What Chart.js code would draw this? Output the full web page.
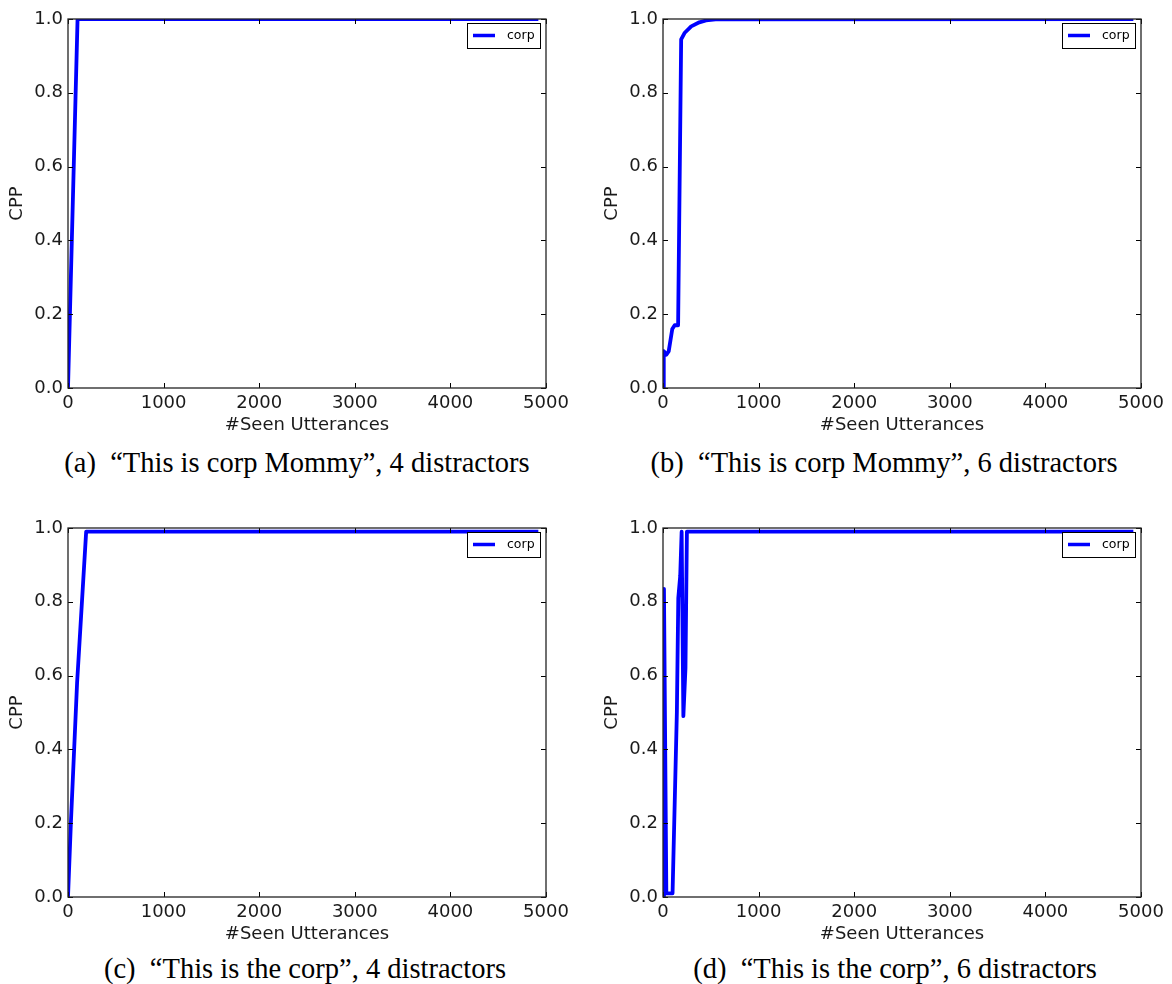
<!DOCTYPE html>
<html>
<head>
<meta charset="utf-8">
<script src="https://cdn.jsdelivr.net/npm/chart.js@4.4.1/dist/chart.umd.min.js"></script>
<style>
    body { margin: 0; background: #fff; width: 1172px; height: 984px; position: relative; overflow: hidden; }
    .panel { position: absolute; width: 586px; height: 440px; }
    .caption { position: absolute; width: 586px; text-align: center; font-family: "Liberation Serif", "Times New Roman", serif; font-size: 28.5px; color: #000; white-space: pre; line-height: 30px; }
</style>
</head>
<body>
<div class="panel" style="left:0;top:0"><canvas id="chartA" width="586" height="440"></canvas></div>
<div class="panel" style="left:595px;top:0"><canvas id="chartB" width="586" height="440"></canvas></div>
<div class="panel" style="left:0;top:509px"><canvas id="chartC" width="586" height="440"></canvas></div>
<div class="panel" style="left:595px;top:509px"><canvas id="chartD" width="586" height="440"></canvas></div>
<div class="caption" style="left:4px;top:448px">(a)  “This is corp Mommy”, 4 distractors</div>
<div class="caption" style="left:591px;top:448px">(b)  “This is corp Mommy”, 6 distractors</div>
<div class="caption" style="left:12px;top:954px">(c)  “This is the corp”, 4 distractors</div>
<div class="caption" style="left:602px;top:954px">(d)  “This is the corp”, 6 distractors</div>
<script>
// data (x = #seen utterances, y = CPP)
const xA = [0, 100, 4920];
const yA = [0, 1.0, 1.0];

const xB = [0, 8, 35, 60, 97, 122, 158, 190, 225, 295, 380, 450, 550, 4920];
const yB = [0, 0.10, 0.09, 0.10, 0.16, 0.17, 0.17, 0.945, 0.962, 0.98, 0.991, 0.996, 0.999, 1.0];

const xC = [0, 30, 95, 190, 4920];
const yC = [0, 0.2, 0.58, 0.99, 0.99];

const xD = [0, 10, 35, 100, 145, 160, 180, 195, 213, 235, 250, 4920];
const yD = [0, 0.835, 0.01, 0.01, 0.5, 0.81, 0.87, 0.99, 0.49, 0.62, 0.99, 0.99];

const xTicks = [0, 1000, 2000, 3000, 4000, 5000];
const yTicks = [0, 0.2, 0.4, 0.6, 0.8, 1.0];
const seriesName = 'corp';

const TICK_FONT = { family: 'DejaVu Sans', size: 18 };
const INK = '#1a1a1a';

// frame, inward ticks on all four sides, legend box in upper right
const mplFrame = {
    id: 'mplFrame',
    afterDraw(chart) {
        const c = chart.ctx;
        const a = chart.chartArea;
        const xs = chart.scales.x, ys = chart.scales.y;
        c.save();
        c.strokeStyle = '#000';
        c.lineWidth = 1;
        c.beginPath();
        xTicks.forEach(v => {
            const px = Math.round(xs.getPixelForValue(v)) + 0.5;
            c.moveTo(px, a.bottom); c.lineTo(px, a.bottom - 5);
            c.moveTo(px, a.top); c.lineTo(px, a.top + 5);
        });
        yTicks.forEach(v => {
            const py = Math.round(ys.getPixelForValue(v)) + 0.5;
            c.moveTo(a.left, py); c.lineTo(a.left + 5, py);
            c.moveTo(a.right, py); c.lineTo(a.right - 5, py);
        });
        c.stroke();
        c.strokeStyle = '#222';
        c.lineWidth = 1.3;
        c.strokeRect(a.left, a.top, a.right - a.left, a.bottom - a.top);

        // legend
        const bw = 73, bh = 25;
        const bx = a.right - 6 - bw, by = a.top + 4;
        c.fillStyle = '#fff';
        c.fillRect(bx, by, bw, bh);
        c.strokeStyle = '#000';
        c.lineWidth = 1;
        c.strokeRect(bx + 0.5, by + 0.5, bw, bh);
        c.strokeStyle = '#0000ff';
        c.lineWidth = 3.5;
        c.beginPath();
        c.moveTo(bx + 6, by + 12.5); c.lineTo(bx + 28, by + 12.5);
        c.stroke();
        c.fillStyle = '#000';
        c.font = '12.5px "DejaVu Sans"';
        c.textBaseline = 'middle';
        c.fillText(chart.data.datasets[0].label, bx + 40, by + 13);
        c.restore();
    }
};

function makeChart(id, xs, ys) {
    const pts = xs.map((x, i) => ({ x: x, y: ys[i] }));
    return new Chart(document.getElementById(id), {
        type: 'line',
        data: {
            datasets: [{
                label: seriesName,
                data: pts,
                borderColor: '#0000ff',
                borderWidth: 3.8,
                borderJoinStyle: 'round',
                pointRadius: 0,
                tension: 0,
                fill: false
            }]
        },
        options: {
            responsive: false,
            animation: false,
            layout: { padding: { top: 19, right: 40, left: 0, bottom: 0 } },
            plugins: { legend: { display: false }, tooltip: { enabled: false } },
            scales: {
                x: {
                    type: 'linear', min: 0, max: 5000,
                    afterFit: s => { s.height = 52; },
                    afterBuildTicks: s => { s.ticks = xTicks.map(v => ({ value: v })); },
                    grid: { display: false, drawTicks: false },
                    border: { display: false },
                    ticks: { font: TICK_FONT, color: INK, padding: 5, maxRotation: 0, callback: v => String(v) },
                    title: { display: true, text: '#Seen Utterances', font: TICK_FONT, color: INK, padding: { top: 0, bottom: 4 } }
                },
                y: {
                    min: 0, max: 1,
                    afterFit: s => { s.width = 68; },
                    afterBuildTicks: s => { s.ticks = yTicks.map(v => ({ value: v })); },
                    grid: { display: false, drawTicks: false },
                    border: { display: false },
                    ticks: { font: TICK_FONT, color: INK, padding: 5, callback: v => v.toFixed(1) },
                    title: { display: true, text: 'CPP', font: TICK_FONT, color: INK, padding: { top: 7, bottom: 0 } }
                }
            }
        },
        plugins: [mplFrame]
    });
}

makeChart('chartA', xA, yA);
makeChart('chartB', xB, yB);
makeChart('chartC', xC, yC);
makeChart('chartD', xD, yD);
</script>
</body>
</html>
